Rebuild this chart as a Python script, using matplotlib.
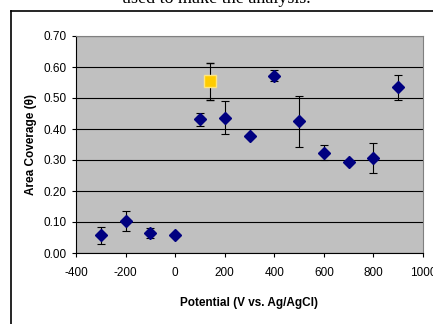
import matplotlib.pyplot as plt

# Dados
potential = [-300, -200, -100, 0, 100, 200, 300, 400, 500, 600, 700, 800, 900]
coverage = [0.057, 0.102, 0.066, 0.057, 0.432, 0.437, 0.376, 0.572, 0.425, 0.323, 0.295, 0.306, 0.534]
coverage_err = [0.027, 0.032, 0.016, 0.0, 0.021, 0.054, 0.0, 0.017, 0.083, 0.024, 0.0, 0.049, 0.041]

special_potential = [140]
special_coverage = [0.554]
special_err = [0.06]

yticks = [0.0, 0.1, 0.2, 0.3, 0.4, 0.5, 0.6, 0.7]
xticks = [-400, -200, 0, 200, 400, 600, 800, 1000]

plt.rcParams['font.family'] = ['Liberation Sans', 'DejaVu Sans']
plt.rcParams['axes.unicode_minus'] = False

fig = plt.figure(figsize=(4.33, 3.24), dpi=100)
W, H = 433, 324

# Texto cortado no topo
fig.text(0.5, 1 - 3 / H, "used to make the analysis.", ha='center', va='baseline',
         fontsize=13, family=['Liberation Serif', 'DejaVu Serif'])

# Borda do gráfico
fig.add_artist(plt.Line2D([11 / W, 1.0], [1 - 11 / H, 1 - 11 / H], color='black', lw=1.2,
                          transform=fig.transFigure))
fig.add_artist(plt.Line2D([11 / W, 11 / W], [0.0, 1 - 11 / H], color='black', lw=1.2,
                          transform=fig.transFigure))

ax = fig.add_axes([76 / W, 1 - 253 / H, (423 - 76) / W, (253 - 36) / H])
ax.set_facecolor('#C0C0C0')

ax.errorbar(potential, coverage, yerr=coverage_err, fmt='D', color='#000080',
            ecolor='black', elinewidth=0.8, capsize=3, capthick=0.8, markersize=6.5,
            zorder=3)
ax.errorbar(special_potential, special_coverage, yerr=special_err, fmt='s',
            markerfacecolor='#FFCC00', markeredgecolor='#FFE680', markeredgewidth=1,
            ecolor='black', elinewidth=0.8, capsize=3, capthick=0.8, markersize=8,
            zorder=3)

ax.set_xlim(-400, 1000)
ax.set_ylim(0, 0.7)
ax.set_xticks(xticks)
ax.set_yticks(yticks)
ax.set_yticklabels([f"{v:.2f}" for v in yticks])
ax.yaxis.grid(True, color='black', lw=0.8)
ax.set_axisbelow(True)

ax.tick_params(labelsize=8.5, length=3, width=0.8, direction='out')
ax.tick_params(axis='x', pad=7)
for side in ['top', 'right']:
    ax.spines[side].set_color('#808080')
for side in ['left', 'bottom']:
    ax.spines[side].set_color('black')

ax.set_xlabel("Potential (V vs. Ag/AgCl)", fontsize=8.5, fontweight='bold', labelpad=13)
ax.set_ylabel("Area Coverage (θ)", fontsize=8.5, fontweight='bold', labelpad=5)

fig.savefig("out.png", dpi=100)
